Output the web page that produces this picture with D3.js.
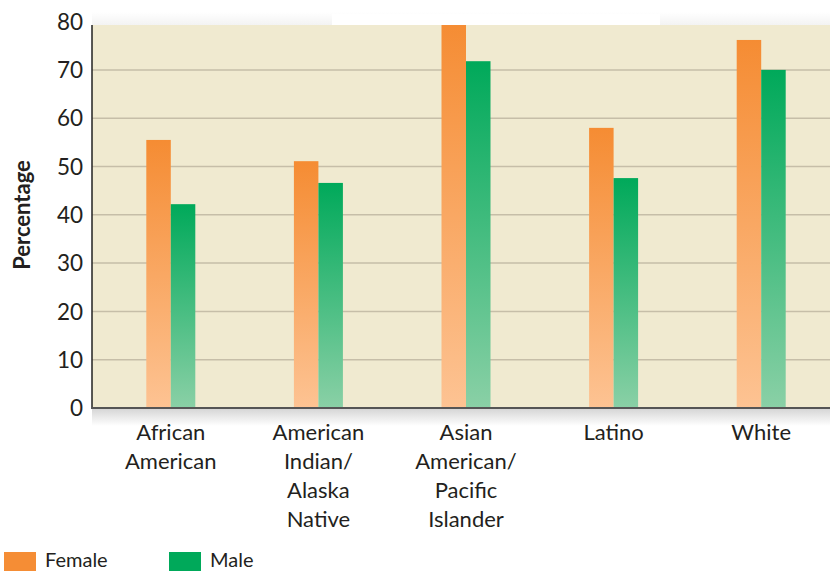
<!DOCTYPE html>
<html><head><meta charset="utf-8">
<script src="https://cdn.jsdelivr.net/npm/d3@7"></script>
<style>body{margin:0;background:#fff}svg{display:block}text{font-family:Lato,"Open Sans",sans-serif}</style>
</head><body>
<svg id="c" width="830" height="571"></svg>
<script>
const categories = [["African","American"],["American","Indian/","Alaska","Native"],["Asian","American/","Pacific","Islander"],["Latino"],["White"]];
const female = [55.5, 51.1, 80, 58, 76.2];
const male = [42.2, 46.6, 71.8, 47.6, 70.0];
const yTicks = [0,10,20,30,40,50,60,70,80];
const seriesNames = ["Female","Male"];

const svg = d3.select("#c");
const W=830,H=571;
const left=92, plotTop=25, bottom=408;
const y = d3.scaleLinear().domain([0,80]).range([bottom, 21.6]);
const x = d3.scaleBand().domain(d3.range(categories.length)).range([97, 835]);
const bw = 24.5;

const defs = svg.append("defs");
function grad(id, top, bot){
  const g = defs.append("linearGradient").attr("id",id).attr("x1",0).attr("y1",0).attr("x2",0).attr("y2",1);
  g.append("stop").attr("offset","0%").attr("stop-color",top);
  g.append("stop").attr("offset","100%").attr("stop-color",bot);
}
grad("gf","#f58c33","#fdc393");
grad("gm","#00a95a","#8ad0a6");
const sh = defs.append("linearGradient").attr("id","sh").attr("x1",0).attr("y1",0).attr("x2",0).attr("y2",1);
sh.append("stop").attr("offset","0%").attr("stop-color","#d4d4d4");
sh.append("stop").attr("offset","100%").attr("stop-color","#ffffff");
const sh2 = defs.append("linearGradient").attr("id","sh2").attr("x1",0).attr("y1",0).attr("x2",0).attr("y2",1);
sh2.append("stop").attr("offset","0%").attr("stop-color","#ffffff");
sh2.append("stop").attr("offset","100%").attr("stop-color","#f3f3f3");
defs.append("clipPath").attr("id","clip").append("rect").attr("x",left).attr("y",plotTop).attr("width",W-left).attr("height",bottom-plotTop);

// shadows
svg.append("rect").attr("x",92).attr("y",12).attr("width",W-92).attr("height",13).attr("fill","url(#sh2)");
svg.append("rect").attr("x",332).attr("y",14).attr("width",328).attr("height",11).attr("fill","#ffffff");
svg.append("rect").attr("x",92).attr("y",bottom).attr("width",W-92).attr("height",18).attr("fill","url(#sh)");

// background
svg.append("rect").attr("x",left).attr("y",plotTop).attr("width",W-left).attr("height",bottom-plotTop).attr("fill","#f0ead0");

// gridlines
svg.append("g").selectAll("line").data(yTicks.filter(d=>d>0 && y(d)>plotTop)).join("line")
  .attr("x1",left).attr("x2",W).attr("y1",d=>y(d)).attr("y2",d=>y(d))
  .attr("stroke","#c6bea8").attr("stroke-width",1.5);

// bars
const gb = svg.append("g").attr("clip-path","url(#clip)");
categories.forEach((c,i)=>{
  [female[i], male[i]].forEach((v,s)=>{
    gb.append("rect").attr("x", x(i)+x.bandwidth()/2 - bw + s*bw).attr("y", y(v))
      .attr("width", bw).attr("height", bottom - y(v))
      .attr("fill", s===0?"url(#gf)":"url(#gm)");
  });
});

// axes
svg.append("line").attr("x1",left).attr("x2",left).attr("y1",plotTop).attr("y2",bottom+1).attr("stroke","#222").attr("stroke-width",1.5);
svg.append("line").attr("x1",left).attr("x2",W).attr("y1",bottom).attr("y2",bottom).attr("stroke","#555").attr("stroke-width",2.2);

// y tick labels
svg.append("g").selectAll("text").data(yTicks).join("text")
  .attr("x",83).attr("y",d=>y(d)).attr("dy","0.36em").attr("text-anchor","end")
  .attr("font-size",22.5).attr("fill","#231f20").text(d=>d);

// y title
svg.append("text").attr("transform","translate(30,215) rotate(-90)").attr("text-anchor","middle")
  .attr("font-size",22).attr("font-weight","bold").attr("fill","#231f20").text("Percentage");

// x labels
const xl = svg.append("g");
categories.forEach((c,i)=>{
  const t = xl.append("text").attr("x", x(i)+x.bandwidth()/2).attr("y",440).attr("text-anchor","middle")
    .attr("font-size",22).attr("fill","#231f20");
  c.forEach((line,k)=>t.append("tspan").attr("x", x(i)+x.bandwidth()/2).attr("y",440+k*29).text(line));
});

// legend
const lg = svg.append("g");
const lx = [4,169];
seriesNames.forEach((n,i)=>{
  lg.append("rect").attr("x",lx[i]).attr("y",552).attr("width",32).attr("height",19).attr("fill", i===0?"#f58d35":"#00a95a");
  lg.append("text").attr("x",lx[i]+41).attr("y",567).attr("font-size",20).attr("fill","#231f20").text(n);
});
</script>
</body></html>
